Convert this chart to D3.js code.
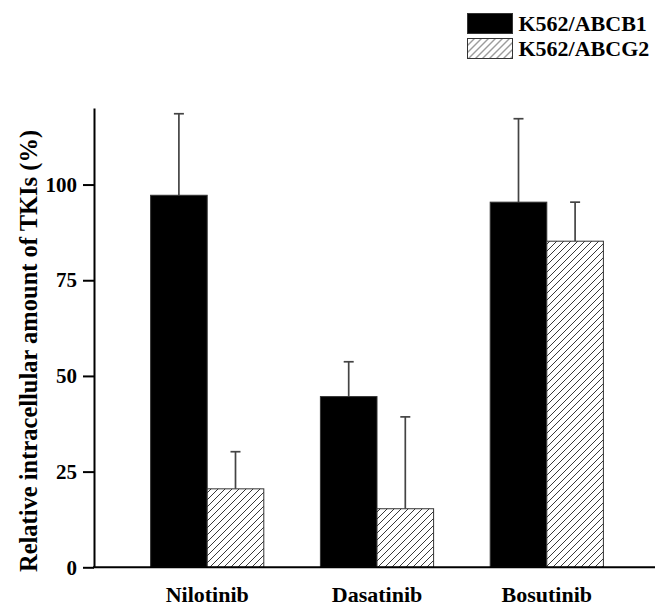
<!DOCTYPE html>
<html lang="en">
<head>
  <meta charset="utf-8">
  <script src="https://cdn.jsdelivr.net/npm/d3@7"></script>
  <style>
    body { margin: 0; background: #fff; }
    svg text {
      font-family: "Liberation Serif", "Times New Roman", serif;
      font-weight: bold;
      fill: #000;
    }
    .axis path, .axis line { stroke: #000; stroke-width: 2; }
  </style>
</head>
<body>
  <svg id="chart" width="655" height="608"></svg>
  <script>
    var drugs = ["Nilotinib", "Dasatinib", "Bosutinib"];
    var seriesNames = ["K562/ABCB1", "K562/ABCG2"];
    var abcb1Values = [97.2, 44.6, 95.4];
    var abcb1Errors = [21.3, 9.1, 21.8];
    var abcg2Values = [20.5, 15.3, 85.2];
    var abcg2Errors = [9.7, 24.0, 10.2];
    var yTicks = [0, 25, 50, 75, 100];

    var svg = d3.select("#chart");

    var x = d3.scaleBand()
        .domain(drugs)
        .range([94, 660])
        .paddingInner(1 / 3)
        .paddingOuter(1 / 3);

    var xs = d3.scaleBand()
        .domain(seriesNames)
        .range([0, x.bandwidth()]);

    var y = d3.scaleLinear()
        .domain([0, 120])
        .range([567.3, 108]);

    var defs = svg.append("defs");
    var pat = defs.append("pattern")
        .attr("id", "hatch")
        .attr("patternUnits", "userSpaceOnUse")
        .attr("width", 7)
        .attr("height", 7);
    pat.append("rect").attr("width", 7).attr("height", 7).attr("fill", "#fff");
    pat.append("path")
        .attr("d", "M0,7 L7,0 M-1,1 L1,-1 M6,8 L8,6")
        .attr("stroke", "#222")
        .attr("stroke-width", 0.9);

    var rows = drugs.map(function(d, i) {
      return [
        { drug: d, s: seriesNames[0], v: abcb1Values[i], e: abcb1Errors[i] },
        { drug: d, s: seriesNames[1], v: abcg2Values[i], e: abcg2Errors[i] }
      ];
    });
    var flat = [].concat.apply([], rows);

    function fillFor(s) { return s === seriesNames[0] ? "#000" : "url(#hatch)"; }

    // error bars (drawn under bars)
    var eb = svg.append("g").attr("stroke", "#444").attr("stroke-width", 1.7);
    flat.forEach(function(d) {
      var cx = x(d.drug) + xs(d.s) + xs.bandwidth() / 2;
      eb.append("line")
        .attr("x1", cx).attr("x2", cx)
        .attr("y1", y(d.v)).attr("y2", y(d.v + d.e));
      eb.append("line")
        .attr("x1", cx - 5).attr("x2", cx + 5)
        .attr("y1", y(d.v + d.e)).attr("y2", y(d.v + d.e));
    });

    svg.append("g").selectAll("rect")
        .data(flat)
      .enter().append("rect")
        .attr("x", function(d) { return x(d.drug) + xs(d.s); })
        .attr("y", function(d) { return y(d.v); })
        .attr("width", xs.bandwidth())
        .attr("height", function(d) { return y(0) - y(d.v); })
        .attr("fill", function(d) { return fillFor(d.s); })
        .attr("stroke", "#333")
        .attr("stroke-width", 1);

    // y axis
    var yAxis = svg.append("g")
        .attr("class", "axis")
        .attr("transform", "translate(94,0)")
        .call(d3.axisLeft(y).tickValues(yTicks).tickSize(11).tickSizeOuter(0).tickPadding(6));
    yAxis.selectAll("text")
        .style("font-family", "'Liberation Serif', 'Times New Roman', serif")
        .style("font-weight", "bold")
        .style("font-size", "21px")
        .attr("fill", "#000");

    // x axis line
    var xAxis = svg.append("g")
        .attr("class", "axis")
        .attr("transform", "translate(0," + y(0) + ")")
        .call(d3.axisBottom(x).tickSize(0).tickSizeOuter(0).tickPadding(19));
    xAxis.select(".domain").attr("d", "M93,0H660");
    xAxis.selectAll("text")
        .style("font-family", "'Liberation Serif', 'Times New Roman', serif")
        .style("font-weight", "bold")
        .style("font-size", "22px")
        .attr("fill", "#000");

    // y label
    svg.append("text")
        .attr("transform", "translate(37,351) rotate(-90)")
        .attr("text-anchor", "middle")
        .style("font-size", "24.5px")
        .text("Relative intracellular amount of TKIs (%)");

    // legend
    var leg = svg.append("g").attr("transform", "translate(467.5,13.5)");
    seriesNames.forEach(function(s, i) {
      var g = leg.append("g").attr("transform", "translate(0," + (i * 25) + ")");
      g.append("rect")
        .attr("width", 45).attr("height", 20)
        .attr("fill", fillFor(s))
        .attr("stroke", "#333").attr("stroke-width", 1);
      g.append("text")
        .attr("x", 51).attr("y", 17.5)
        .style("font-size", "22px")
        .text(s);
    });
  </script>
</body>
</html>
